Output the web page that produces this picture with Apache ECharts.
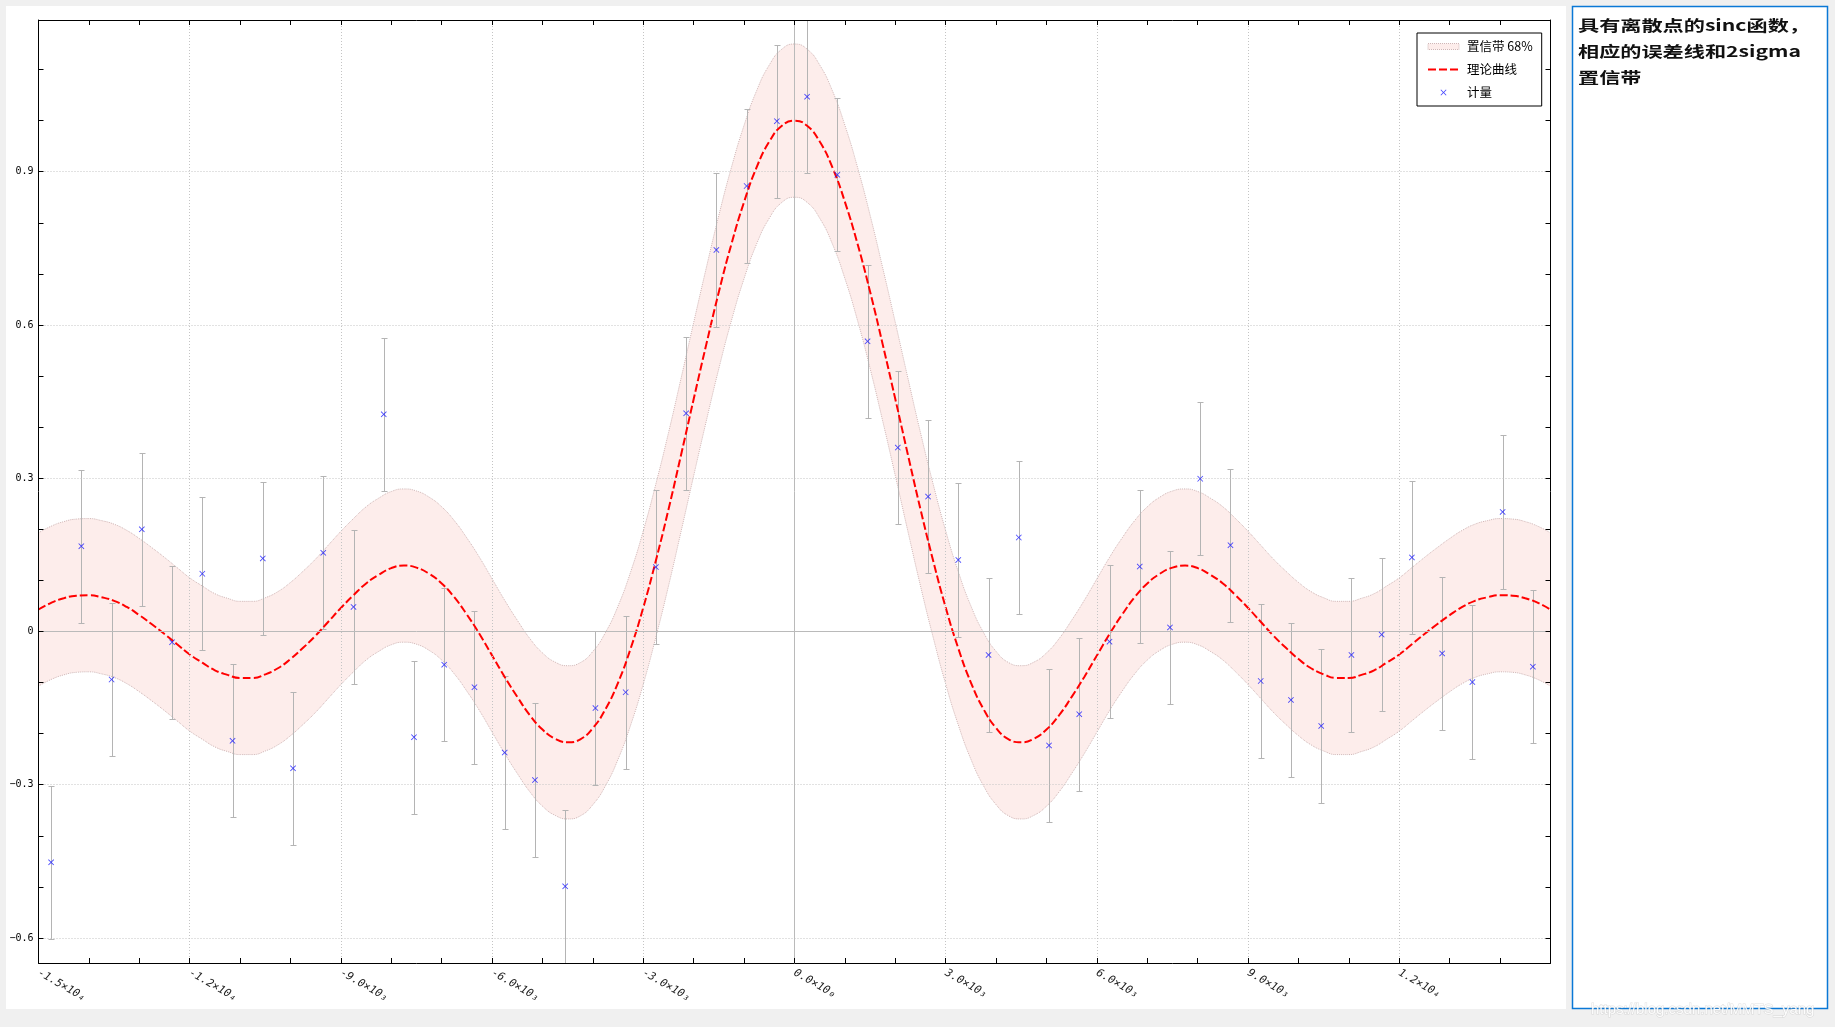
<!DOCTYPE html>
<html>
<head>
<meta charset="utf-8">
<script src="https://cdn.jsdelivr.net/npm/echarts@6/dist/echarts.min.js"></script>
<style>
  html, body { margin: 0; padding: 0; background: #f0f0f0; }
  #chart { width: 1835px; height: 1027px; }
</style>
</head>
<body>
<div id="chart"></div>
<script>
// ---------- data ----------
const titleText = '具有离散点的sinc函数，\n相应的误差线和2sigma\n置信带';
const legendNames = ['置信带 68%', '理论曲线', '计量'];

// x ticks (labels every 3000)
const xTickValues = [-15000, -12000, -9000, -6000, -3000, 0, 3000, 6000, 9000, 12000];
const xTickLabels = ['-1.5×10₄', '-1.2×10₄', '-9.0×10₃', '-6.0×10₃', '-3.0×10₃',
                     '0.0×10₀', '3.0×10₃', '6.0×10₃', '9.0×10₃', '1.2×10₄'];
const xGridValues = [-12000, -9000, -6000, -3000, 3000, 6000, 9000, 12000];
// y ticks
const yTickValues = [-0.6, -0.3, 0, 0.3, 0.6, 0.9];
const yTickLabels = ['−0.6', '−0.3', '0', '0.3', '0.6', '0.9'];
const yMinorTicks = [-0.6, -0.5, -0.4, -0.3, -0.2, -0.1, 0, 0.1, 0.2, 0.3, 0.4, 0.5, 0.6, 0.7, 0.8, 0.9, 1.0, 1.1];
const yGridValues = [-0.6, -0.3, 0.3, 0.6, 0.9];

// theoretical curve (read every 250)
const curveX = [-15000, -14750, -14500, -14250, -14000, -13750, -13500, -13250, -13000, -12750,
                -12500, -12250, -12000, -11750, -11500, -11250, -11000, -10750, -10500, -10250,
                -10000, -9750, -9500, -9250, -9000, -8750, -8500, -8250, -8000, -7750,
                -7500, -7250, -7000, -6750, -6500, -6250, -6000, -5750, -5500, -5250,
                -5000, -4750, -4500, -4250, -4000, -3750, -3500, -3250, -3000, -2750,
                -2500, -2250, -2000, -1750, -1500, -1250, -1000, -750, -500, -250,
                0,
                250, 500, 750, 1000, 1250, 1500, 1750, 2000, 2250, 2500,
                2750, 3000, 3250, 3500, 3750, 4000, 4250, 4500, 4750, 5000,
                5250, 5500, 5750, 6000, 6250, 6500, 6750, 7000, 7250, 7500,
                7750, 8000, 8250, 8500, 8750, 9000, 9250, 9500, 9750, 10000,
                10250, 10500, 10750, 11000, 11250, 11500, 11750, 12000, 12250, 12500,
                12750, 13000, 13250, 13500, 13750, 14000, 14250, 14500, 14750, 15000];
const curveY = [0.043, 0.056, 0.065, 0.070, 0.071, 0.067, 0.060, 0.048, 0.032, 0.014,
                -0.005, -0.025, -0.045, -0.061, -0.076, -0.085, -0.091, -0.091, -0.084, -0.072,
                -0.054, -0.032, -0.008, 0.019, 0.046, 0.071, 0.094, 0.111, 0.124, 0.129,
                0.125, 0.113, 0.094, 0.067, 0.033, -0.005, -0.047, -0.089, -0.128, -0.164,
                -0.192, -0.210, -0.217, -0.211, -0.189, -0.152, -0.100, -0.033, 0.047, 0.139,
                0.239, 0.346, 0.455, 0.562, 0.665, 0.759, 0.841, 0.909, 0.959, 0.990,
                1.000,
                0.990, 0.959, 0.909, 0.841, 0.759, 0.665, 0.562, 0.455, 0.346, 0.239,
                0.139, 0.047, -0.033, -0.100, -0.152, -0.189, -0.211, -0.217, -0.210, -0.192,
                -0.164, -0.128, -0.089, -0.047, -0.005, 0.033, 0.067, 0.094, 0.113, 0.125,
                0.129, 0.124, 0.111, 0.094, 0.071, 0.046, 0.019, -0.008, -0.032, -0.054,
                -0.072, -0.084, -0.091, -0.091, -0.085, -0.076, -0.061, -0.045, -0.025, -0.005,
                0.014, 0.032, 0.048, 0.060, 0.067, 0.071, 0.070, 0.065, 0.056, 0.043];
// 68% confidence band edges
const bandUpper = [0.193, 0.206, 0.215, 0.220, 0.221, 0.217, 0.210, 0.198, 0.182, 0.164,
                   0.145, 0.125, 0.105, 0.089, 0.074, 0.065, 0.059, 0.059, 0.066, 0.078,
                   0.096, 0.118, 0.142, 0.169, 0.196, 0.221, 0.244, 0.261, 0.274, 0.279,
                   0.275, 0.263, 0.244, 0.217, 0.183, 0.145, 0.103, 0.061, 0.022, -0.014,
                   -0.042, -0.060, -0.067, -0.061, -0.039, -0.002, 0.050, 0.117, 0.197, 0.289,
                   0.389, 0.496, 0.605, 0.712, 0.815, 0.909, 0.991, 1.059, 1.109, 1.140,
                   1.150,
                   1.140, 1.109, 1.059, 0.991, 0.909, 0.815, 0.712, 0.605, 0.496, 0.389,
                   0.289, 0.197, 0.117, 0.050, -0.002, -0.039, -0.061, -0.067, -0.060, -0.042,
                   -0.014, 0.022, 0.061, 0.103, 0.145, 0.183, 0.217, 0.244, 0.263, 0.275,
                   0.279, 0.274, 0.261, 0.244, 0.221, 0.196, 0.169, 0.142, 0.118, 0.096,
                   0.078, 0.066, 0.059, 0.059, 0.065, 0.074, 0.089, 0.105, 0.125, 0.145,
                   0.164, 0.182, 0.198, 0.210, 0.217, 0.221, 0.220, 0.215, 0.206, 0.193];
const bandLower = [-0.107, -0.094, -0.085, -0.080, -0.079, -0.083, -0.090, -0.102, -0.118, -0.136,
                   -0.155, -0.175, -0.195, -0.211, -0.226, -0.235, -0.241, -0.241, -0.234, -0.222,
                   -0.204, -0.182, -0.158, -0.131, -0.104, -0.079, -0.056, -0.039, -0.026, -0.021,
                   -0.025, -0.037, -0.056, -0.083, -0.117, -0.155, -0.197, -0.239, -0.278, -0.314,
                   -0.342, -0.360, -0.367, -0.361, -0.339, -0.302, -0.250, -0.183, -0.103, -0.011,
                   0.089, 0.196, 0.305, 0.412, 0.515, 0.609, 0.691, 0.759, 0.809, 0.840,
                   0.850,
                   0.840, 0.809, 0.759, 0.691, 0.609, 0.515, 0.412, 0.305, 0.196, 0.089,
                   -0.011, -0.103, -0.183, -0.250, -0.302, -0.339, -0.361, -0.367, -0.360, -0.342,
                   -0.314, -0.278, -0.239, -0.197, -0.155, -0.117, -0.083, -0.056, -0.037, -0.025,
                   -0.021, -0.026, -0.039, -0.056, -0.079, -0.104, -0.131, -0.158, -0.182, -0.204,
                   -0.222, -0.234, -0.241, -0.241, -0.235, -0.226, -0.211, -0.195, -0.175, -0.155,
                   -0.136, -0.118, -0.102, -0.090, -0.083, -0.079, -0.080, -0.085, -0.094, -0.107];

// measured points
const pointX = [-14750, -14150, -13550, -12950, -12350, -11750, -11150, -10550, -9950, -9350,
                -8750, -8150, -7550, -6950, -6350, -5750, -5150, -4550, -3950, -3350,
                -2750, -2150, -1550, -950, -350, 250, 850, 1450, 2050, 2650,
                3250, 3850, 4450, 5050, 5650, 6250, 6850, 7450, 8050, 8650,
                9250, 9850, 10450, 11050, 11650, 12250, 12850, 13450, 14050, 14650];
const pointY = [-0.452, 0.167, -0.094, 0.200, -0.021, 0.113, -0.214, 0.143, -0.268, 0.154,
                0.048, 0.425, -0.207, -0.065, -0.109, -0.237, -0.291, -0.499, -0.150, -0.119,
                0.126, 0.427, 0.747, 0.872, 0.999, 1.047, 0.894, 0.568, 0.360, 0.264,
                0.140, -0.046, 0.184, -0.223, -0.162, -0.020, 0.127, 0.008, 0.299, 0.169,
                -0.097, -0.134, -0.185, -0.046, -0.006, 0.145, -0.043, -0.099, 0.234, -0.069];
const pointErr = [0.15, 0.15, 0.15, 0.15, 0.15, 0.15, 0.15, 0.15, 0.15, 0.15,
                  0.15, 0.15, 0.15, 0.15, 0.15, 0.15, 0.15, 0.15, 0.15, 0.15,
                  0.15, 0.15, 0.15, 0.15, 0.15, 0.15, 0.15, 0.15, 0.15, 0.15,
                  0.15, 0.15, 0.15, 0.15, 0.15, 0.15, 0.15, 0.15, 0.15, 0.15,
                  0.15, 0.15, 0.15, 0.15, 0.15, 0.15, 0.15, 0.15, 0.15, 0.15];

const xMin = -15000, xMax = 15000;
const yMin = -0.649, yMax = 1.197;

// ---------- build ----------
const curveData = curveX.map((x, i) => [x, curveY[i]]);
const upperData = curveX.map((x, i) => [x, bandUpper[i]]);
const lowerData = curveX.map((x, i) => [x, bandLower[i]]);
const pointData = pointX.map((x, i) => [x, pointY[i]]);
const errData = pointX.map((x, i) => [x, pointY[i], pointErr[i]]);

const crossPath = 'path://M0,1L1,0L5,4L9,0L10,1L6,5L10,9L9,10L5,6L1,10L0,9L4,5Z';
const bandFill = '#fdedeb';
const bandEdge = { color: '#cfb6b6', width: 1, type: 'dotted' };
const gridLine = { color: '#c4c4c4', type: [1, 2], width: 1 };
const zeroLine = { color: '#bababa', type: 'solid', width: 1 };

const chart = echarts.init(document.getElementById('chart'), null, { renderer: 'canvas' });

function xAxisCfg(pos, showLabel) {
  return {
    type: 'value', position: pos, min: xMin, max: xMax, interval: 3000, z: 10,
    axisLine: { show: true, onZero: false, lineStyle: { color: '#000', width: 1 } },
    axisTick: { show: true, inside: true, length: 5, lineStyle: { color: '#000' } },
    minorTick: { show: true, splitNumber: 3, length: 5, lineStyle: { color: '#000' } },
    axisLabel: showLabel ? {
      rotate: -30, margin: 9, fontSize: 11, fontStyle: 'italic',
      fontFamily: '"DejaVu Sans Mono", monospace', color: '#222',
      formatter: function (v) {
        const i = xTickValues.indexOf(v);
        return i >= 0 ? xTickLabels[i] : '';
      }
    } : { show: false },
    splitLine: { show: false },
    minorSplitLine: { show: false }
  };
}
function yAxisCfg(pos, showLabel) {
  return {
    type: 'value', position: pos, min: yMin, max: yMax, z: 10,
    axisLine: { show: true, onZero: false, lineStyle: { color: '#000', width: 1 } },
    axisTick: { show: true, inside: true, length: 5, lineStyle: { color: '#000' }, customValues: yMinorTicks },
    axisLabel: showLabel ? {
      customValues: yTickValues, margin: 5, fontSize: 10,
      fontFamily: '"DejaVu Sans Mono", monospace', color: '#000',
      formatter: function (v) {
        let best = 0, d = Infinity;
        yTickValues.forEach((t, i) => { if (Math.abs(t - v) < d) { d = Math.abs(t - v); best = i; } });
        return yTickLabels[best];
      }
    } : { show: false },
    splitLine: { show: false }
  };
}

const option = {
  animation: false,
  backgroundColor: '#f0f0f0',
  grid: { left: 38.5, right: 284.5, top: 20, bottom: 64, outerBoundsMode: 'none', containLabel: false },
  legend: {
    orient: 'vertical',
    left: 1417, top: 33,
    padding: [6, 9, 6, 10],
    itemGap: 8,
    itemWidth: 31,
    itemHeight: 6,
    borderColor: '#000', borderWidth: 1, borderRadius: 0,
    backgroundColor: '#fff',
    textStyle: { fontSize: 12.5, fontFamily: '"Noto Sans CJK SC", sans-serif', color: '#000', lineHeight: 15, padding: [0, 0, 0, 3] },
    data: [
      { name: legendNames[0], icon: 'rect',
        itemStyle: { color: bandFill, borderColor: '#cfb6b6', borderType: 'dotted', borderWidth: 1 } },
      { name: legendNames[1], itemStyle: { color: 'rgba(0,0,0,0)', borderWidth: 0, opacity: 0 } },
      { name: legendNames[2], icon: crossPath }
    ]
  },
  xAxis: [xAxisCfg('bottom', true), xAxisCfg('top', false)],
  yAxis: [yAxisCfg('left', true), yAxisCfg('right', false)],
  series: [
    { // band: fill under the upper edge
      name: legendNames[0], type: 'line', data: upperData,
      smooth: true, symbol: 'none', z: 1, silent: true,
      lineStyle: bandEdge,
      areaStyle: { color: bandFill, opacity: 1, origin: 'start' }
    },
    { // band: clear under the lower edge
      name: '_bandLower', type: 'line', data: lowerData,
      smooth: true, symbol: 'none', z: 1, silent: true,
      lineStyle: bandEdge,
      areaStyle: { color: '#ffffff', opacity: 1, origin: 'start' }
    },
    { // grid lines and zero lines
      name: '_grid', type: 'line', data: [], z: 2, silent: true,
      markLine: {
        silent: true, symbol: ['none', 'none'], label: { show: false }, animation: false,
        lineStyle: gridLine,
        data: yGridValues.map(v => ({ yAxis: v }))
          .concat(xGridValues.map(v => ({ xAxis: v })))
          .concat([
            { yAxis: 0, lineStyle: zeroLine },
            { xAxis: 0, lineStyle: zeroLine }
          ])
      }
    },
    { // error bars
      name: '_err', type: 'custom', data: errData, z: 3, silent: true,
      encode: { x: 0, y: 1 },
      renderItem: function (params, api) {
        const x = api.value(0), y = api.value(1), e = api.value(2);
        const t = api.coord([x, y + e]);
        const b = api.coord([x, y - e]);
        const px = Math.round(t[0]) + 0.5;
        const ty = Math.round(t[1]) + 0.5, by = Math.round(b[1]) + 0.5;
        const hw = 3;
        const st = { stroke: '#b4b4b4', lineWidth: 1 };
        return {
          type: 'group',
          children: [
            { type: 'line', shape: { x1: px, y1: ty, x2: px, y2: by }, style: st },
            { type: 'line', shape: { x1: px - hw, y1: ty, x2: px + hw, y2: ty }, style: st },
            { type: 'line', shape: { x1: px - hw, y1: by, x2: px + hw, y2: by }, style: st }
          ]
        };
      }
    },
    { // theoretical curve
      name: legendNames[1], type: 'line', data: curveData, smooth: true, symbol: 'none', z: 4,
      lineStyle: { color: '#ff0000', width: 2, type: [8, 3] },
      itemStyle: { color: '#ff0000' }
    },
    { // measurements
      name: legendNames[2], type: 'scatter', data: pointData, z: 5,
      symbol: crossPath, symbolSize: 6,
      itemStyle: { color: '#1a1aff' }
    }
  ],
  graphic: [
    { type: 'rect', z: -10, silent: true, shape: { x: 6, y: 6, width: 1560, height: 1003 }, style: { fill: '#ffffff' } },
    { type: 'rect', z: -10, silent: true, shape: { x: 1572.5, y: 6.5, width: 255, height: 1002 },
      style: { fill: '#ffffff', stroke: '#0a78d6', lineWidth: 1.5 } },
    { type: 'text', z: 10, silent: true, x: 1578, y: 12, scaleX: 1.41, scaleY: 1,
      style: { text: titleText, fontSize: 15, fontWeight: 'bold',
               fontFamily: '"Noto Sans CJK SC", sans-serif', fill: '#111', lineHeight: 26.3,
               verticalAlign: 'top', align: 'left' } },
    { type: 'text', z: 100, silent: true, x: 1591, y: 1002,
      style: { text: 'https://blog.csdn.net/MMTS_yang', fontSize: 15,
               fontFamily: '"Liberation Sans", Arial, sans-serif',
               fill: 'rgba(255,255,255,0.9)', stroke: 'rgba(170,170,170,0.35)', lineWidth: 1,
               verticalAlign: 'top', align: 'left' } }
  ]
};

chart.setOption(option);
</script>
</body>
</html>
